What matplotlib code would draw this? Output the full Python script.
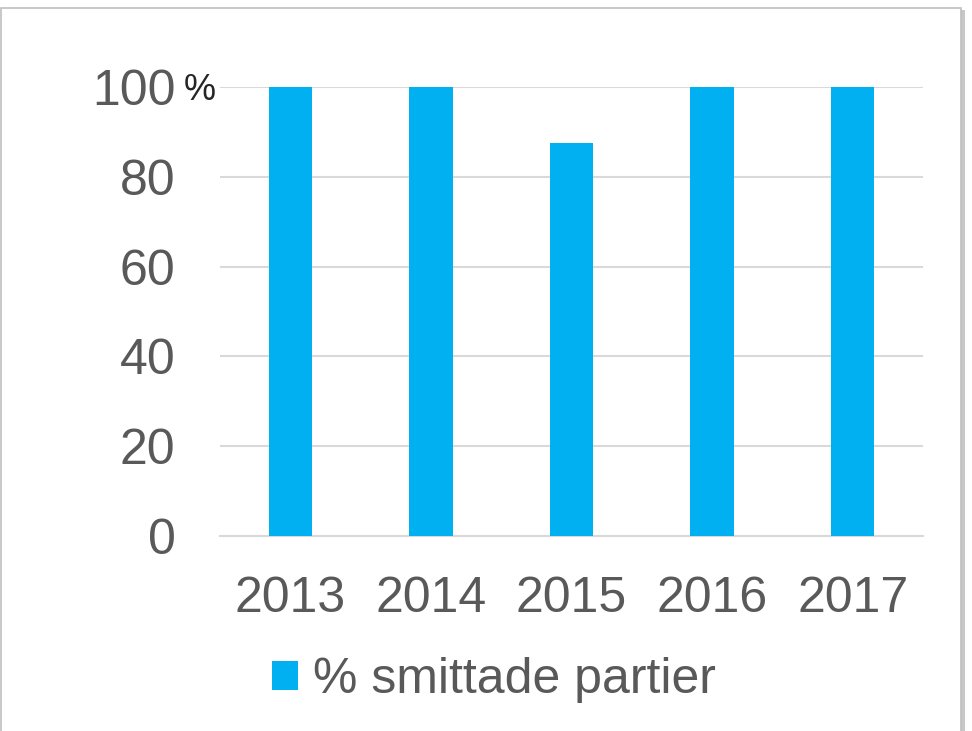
import matplotlib.pyplot as plt
from matplotlib.patches import Rectangle

years = ['2013', '2014', '2015', '2016', '2017']
values = [100, 100, 87.5, 100, 100]
series_name = '% smittade partier'
yticks = [0, 20, 40, 60, 80, 100]

plt.rcParams['font.family'] = ['Liberation Sans', 'DejaVu Sans']

fig = plt.figure(figsize=(9.72, 7.31), dpi=100)
W, H = 972, 731

# chart frame with a soft shadow (behind the axes)
fig.patches.append(Rectangle((3 / W, -0.01), 962 / W, 1 - 10 / H + 0.01,
                             transform=fig.transFigure, facecolor='#c8c8c8',
                             edgecolor='none', zorder=-3))
fig.patches.append(Rectangle((0.5 / W, -0.01), 960 / W, 1 - 8 / H + 0.01,
                             transform=fig.transFigure, facecolor='white',
                             edgecolor='#bfbfbf', linewidth=1.2, zorder=-2))

ax = fig.add_axes([220 / W, (H - 536) / H, (923 - 220) / W, (536 - 87) / H])
ax.set_facecolor('none')

bars = ax.bar(range(len(years)), values, width=0.31, color='#00B0F0',
              label=series_name, zorder=3)

ax.set_xlim(-0.5, len(years) - 0.5)
ax.set_ylim(0, 100)
ax.set_yticks(yticks)
ax.set_yticklabels([str(v) for v in yticks])
ax.set_xticks(range(len(years)))
ax.set_xticklabels(years)
ax.tick_params(axis='both', length=0, labelsize=36, labelcolor='#595959')
ax.tick_params(axis='y', pad=32)
ax.tick_params(axis='x', pad=29)

ax.grid(axis='y', color='#d9d9d9', linewidth=1.5, zorder=0)
for s in ['top', 'right', 'left']:
    ax.spines[s].set_visible(False)
ax.spines['bottom'].set_color('#d9d9d9')
ax.spines['bottom'].set_linewidth(1.5)

# small percent sign next to the top tick
fig.text(184 / W, 1 - 90 / H, '%', fontsize=26, color='#262626',
         ha='left', va='center')

leg = fig.legend(handles=[bars], labels=[series_name], loc='center left',
                 bbox_to_anchor=(272 / W, 1 - 680 / H), frameon=False,
                 fontsize=36, handlelength=0.52, handleheight=0.52,
                 handletextpad=0.3, borderpad=0, borderaxespad=0)
for t in leg.get_texts():
    t.set_color('#595959')

fig.savefig('out.png', dpi=100)
